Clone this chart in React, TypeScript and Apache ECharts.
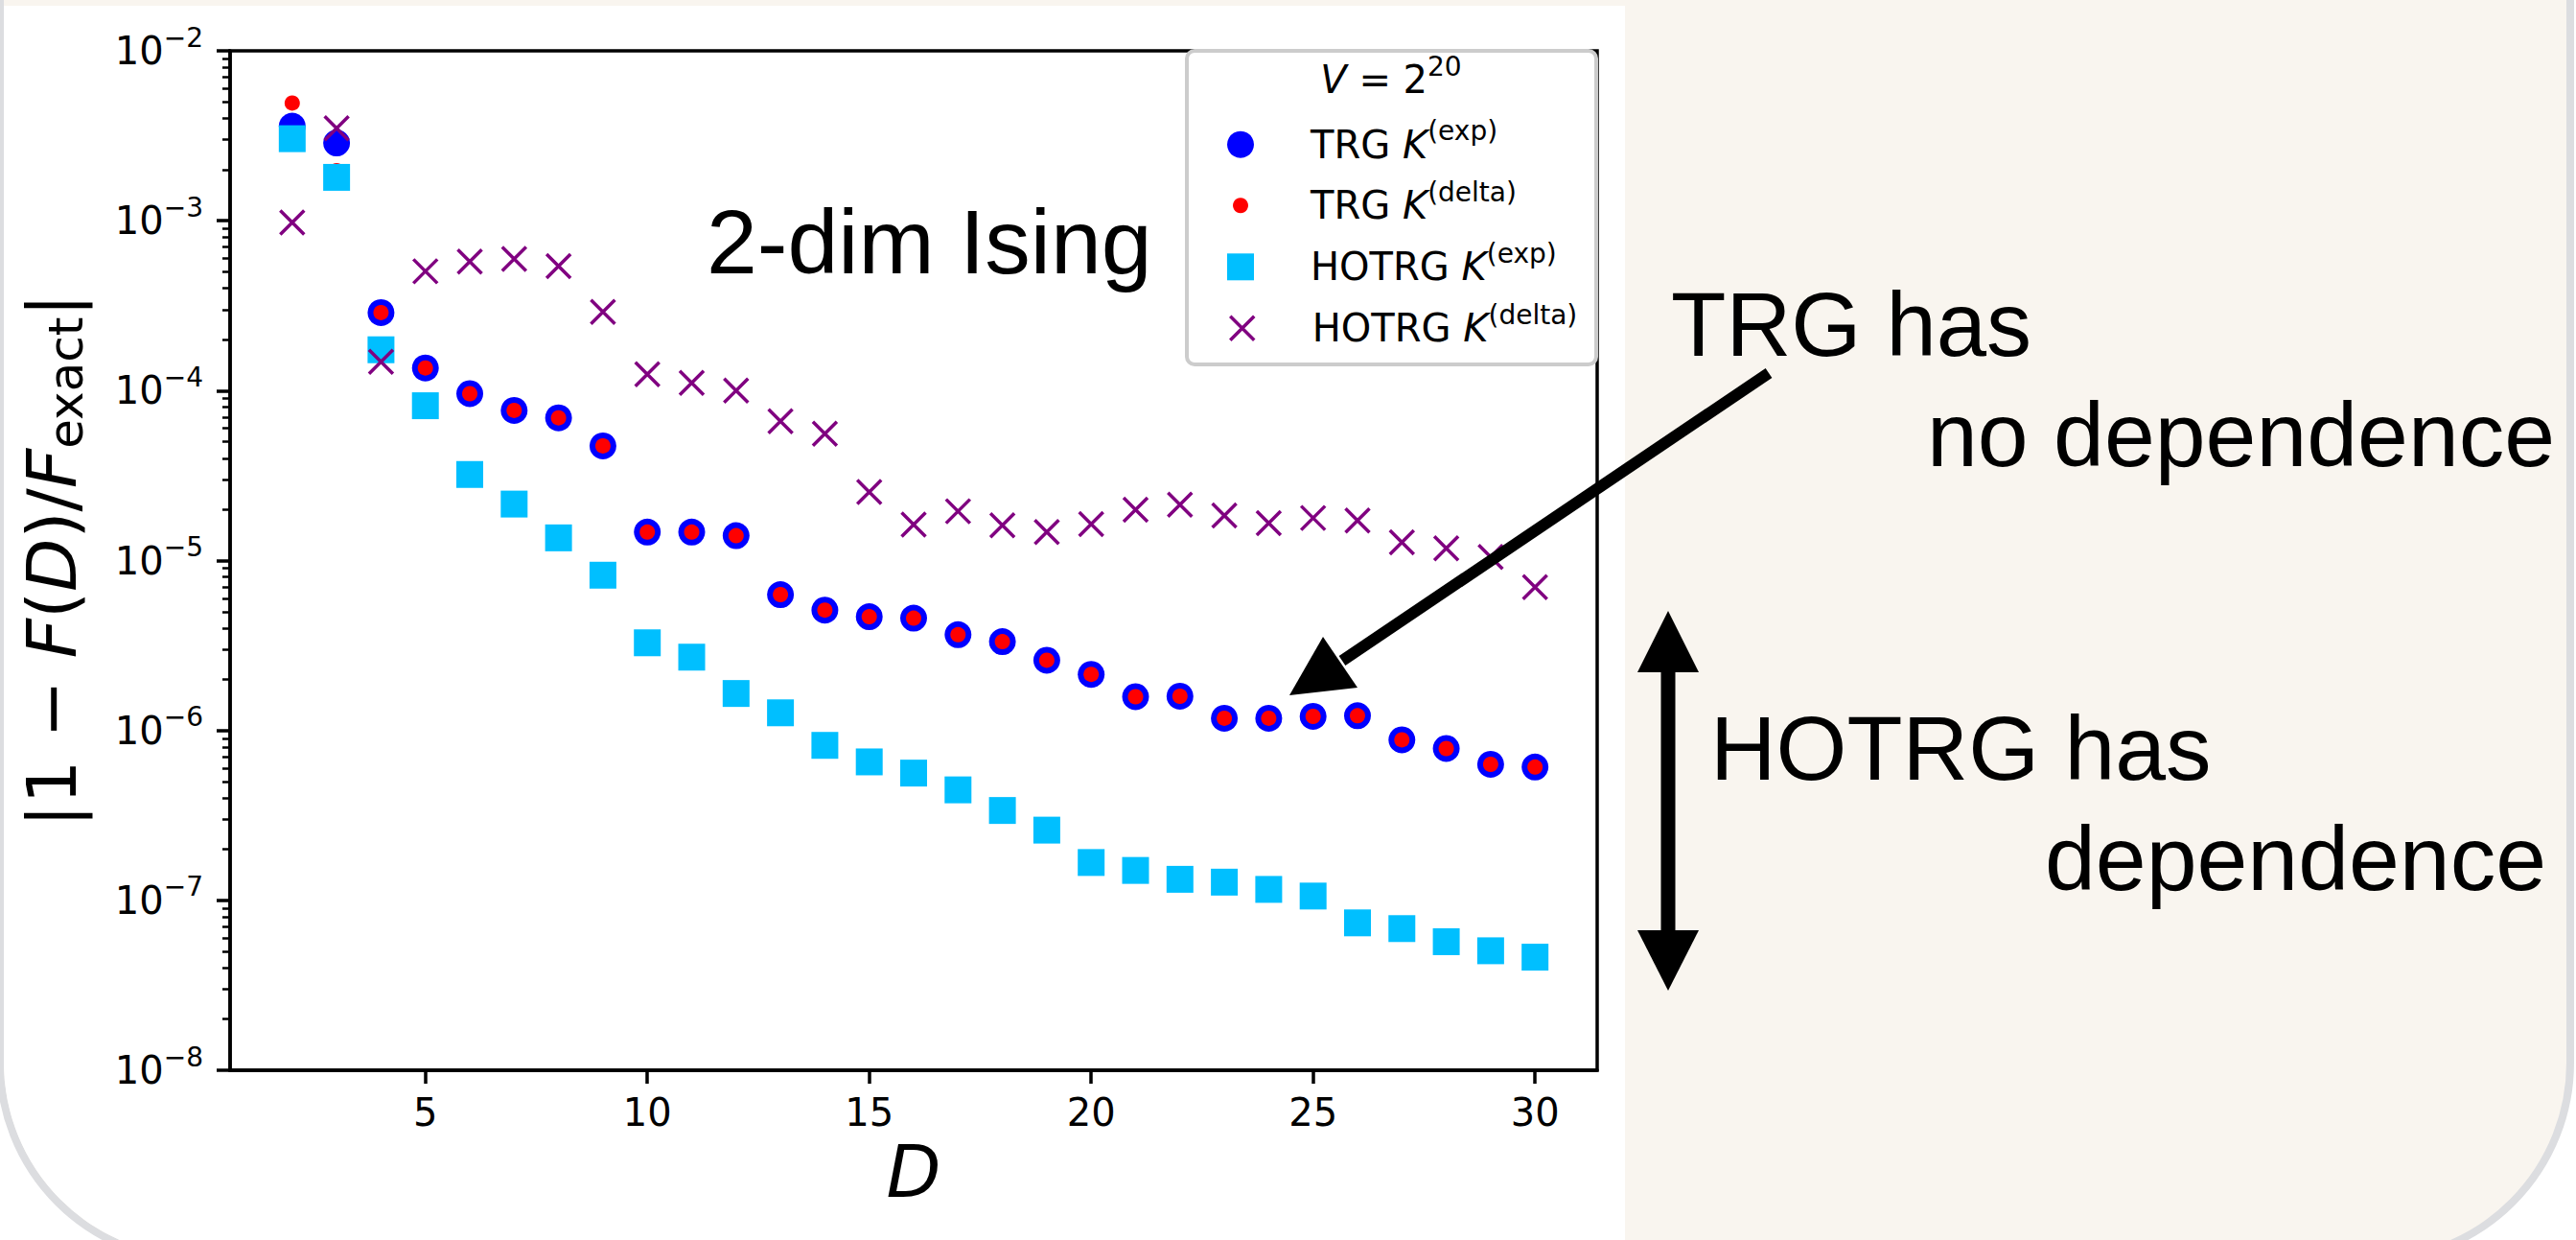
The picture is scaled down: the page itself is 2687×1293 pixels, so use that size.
import React, { useEffect, useRef } from 'react';
import * as echarts from 'echarts';

// ---------------- data ----------------
const D_VALUES = [2, 3, 4, 5, 6, 7, 8, 9, 10, 11, 12, 13, 14, 15, 16, 17, 18, 19, 20, 21, 22, 23, 24, 25, 26, 27, 28, 29, 30];

const TRG_EXP = [3.6e-3, 2.87e-3, 2.88e-4, 1.36e-4, 9.6e-5, 7.65e-5, 6.92e-5, 4.73e-5, 1.47e-5, 1.47e-5, 1.4e-5,
  6.3e-6, 5.11e-6, 4.67e-6, 4.58e-6, 3.66e-6, 3.33e-6, 2.59e-6, 2.14e-6, 1.58e-6, 1.59e-6, 1.18e-6, 1.18e-6,
  1.21e-6, 1.22e-6, 8.81e-7, 7.83e-7, 6.32e-7, 6.09e-7];

const TRG_DELTA = [4.93e-3, 1.97e-3, 2.88e-4, 1.36e-4, 9.6e-5, 7.65e-5, 6.92e-5, 4.73e-5, 1.47e-5, 1.47e-5, 1.4e-5,
  6.3e-6, 5.11e-6, 4.67e-6, 4.58e-6, 3.66e-6, 3.33e-6, 2.59e-6, 2.14e-6, 1.58e-6, 1.59e-6, 1.18e-6, 1.18e-6,
  1.21e-6, 1.22e-6, 8.81e-7, 7.83e-7, 6.32e-7, 6.09e-7];

const HOTRG_EXP = [3.04e-3, 1.8e-3, 1.74e-4, 8.15e-5, 3.21e-5, 2.15e-5, 1.36e-5, 8.2e-6, 3.28e-6, 2.7e-6, 1.65e-6,
  1.27e-6, 8.17e-7, 6.53e-7, 5.61e-7, 4.47e-7, 3.38e-7, 2.59e-7, 1.67e-7, 1.5e-7, 1.33e-7, 1.28e-7, 1.16e-7,
  1.06e-7, 7.37e-8, 6.82e-8, 5.71e-8, 5.05e-8, 4.63e-8];

const HOTRG_DELTA = [9.76e-4, 3.5e-3, 1.48e-4, 5.04e-4, 5.75e-4, 5.96e-4, 5.4e-4, 2.91e-4, 1.25e-4, 1.11e-4, 1.0e-4,
  6.61e-5, 5.58e-5, 2.53e-5, 1.63e-5, 1.95e-5, 1.61e-5, 1.47e-5, 1.64e-5, 1.99e-5, 2.13e-5, 1.84e-5, 1.66e-5,
  1.78e-5, 1.72e-5, 1.28e-5, 1.18e-5, 1.05e-5, 6.98e-6];

const X_TICKS = [5, 10, 15, 20, 25, 30];
const Y_DECADES = [-8, -7, -6, -5, -4, -3, -2];
const Y_MINOR_MULTIPLIERS = [2, 3, 4, 5, 6, 7, 8, 9];

const SERIES_NAMES = ['TRG K(exp)', 'TRG K(delta)', 'HOTRG K(exp)', 'HOTRG K(delta)'];
const SERIES_METHOD = ['TRG', 'TRG', 'HOTRG', 'HOTRG'];
const SERIES_KIND = ['exp', 'delta', 'exp', 'delta'];

// ---------------- styling ----------------
const MATH_FONT = 'DejaVu Sans';
const SLIDE_FONT = '"Liberation Sans", Arial, Helvetica, sans-serif';
const BLACK = '#000000';

const COLORS = ['#0000ff', '#ff0000', '#00bfff', '#800080'];
const SYMBOLS = ['circle', 'circle', 'rect', 'path://M0,0L10,10M10,0L0,10'];
const SYMBOL_SIZES = [28, 16, 28, 25];

const LEGEND_ICON_X = 1294;
const LEGEND_TEXT_X = 1367;
const LEGEND_ROWS = [150.7, 214.3, 278.3, 342.3];
const LEGEND_LINE_H = 56;

function buildMinorTicks() {
  const out: number[] = [];
  for (let k = 0; k < Y_DECADES.length - 1; k++) {
    for (const m of Y_MINOR_MULTIPLIERS) {
      out.push(Number((m * Math.pow(10, Y_DECADES[k])).toPrecision(6)));
    }
  }
  return out;
}

const mathRich = (size: number, lh: number) => ({
  n: { fontFamily: MATH_FONT, fontSize: size, lineHeight: lh, color: BLACK },
  k: { fontFamily: MATH_FONT, fontSize: size, lineHeight: lh, color: BLACK, fontStyle: 'italic' },
  s: { fontFamily: MATH_FONT, fontSize: Math.round(size * 0.7), lineHeight: lh / 2, padding: [0, 0, lh / 2, 0], color: BLACK },
});

function buildOption() {
  const series = SERIES_NAMES.map((name, i) => {
    const values = [TRG_EXP, TRG_DELTA, HOTRG_EXP, HOTRG_DELTA][i];
    const isCross = i === 3;
    return {
      type: 'scatter',
      name,
      xAxisIndex: 0,
      yAxisIndex: 0,
      data: D_VALUES.map((d, j) => [d, values[j]]),
      symbol: SYMBOLS[i],
      symbolSize: SYMBOL_SIZES[i],
      itemStyle: isCross
        ? { color: 'rgba(0,0,0,0)', borderColor: COLORS[i], borderWidth: 3.5, opacity: 1 }
        : { color: COLORS[i], borderWidth: 0, opacity: 1 },
      emphasis: { disabled: true },
      z: 2 + i * 0.01,
      silent: true,
    };
  });

  const legends = SERIES_NAMES.map((name, i) => {
    const w = SYMBOL_SIZES[i];
    const gapW = LEGEND_TEXT_X - (LEGEND_ICON_X + w / 2 + 5);
    const rich: any = {
      g: { width: gapW, fontSize: 40, lineHeight: LEGEND_LINE_H },
      ...mathRich(40, LEGEND_LINE_H),
    };
    return {
      show: true,
      data: [name],
      orient: 'vertical',
      left: LEGEND_ICON_X - w / 2,
      top: LEGEND_ROWS[i] - LEGEND_LINE_H / 2,
      padding: 0,
      itemGap: 0,
      itemWidth: w,
      itemHeight: w,
      selectedMode: false,
      z: 6,
      itemStyle: i === 3
        ? { borderWidth: 3.5, borderColor: COLORS[i], color: 'rgba(0,0,0,0)', opacity: 1 }
        : { borderWidth: 0, opacity: 1 },
      formatter: () => `{g| }{n|${SERIES_METHOD[i]} }{k|K}{s|(${SERIES_KIND[i]})}`,
      textStyle: { color: BLACK, fontFamily: MATH_FONT, fontSize: 40, rich },
    };
  });

  const yLabelRich: any = {
    n: { fontFamily: MATH_FONT, fontSize: 72, lineHeight: 90, color: BLACK },
    i: { fontFamily: MATH_FONT, fontSize: 72, lineHeight: 90, color: BLACK, fontStyle: 'italic' },
    sub: { fontFamily: MATH_FONT, fontSize: 50, lineHeight: 60, padding: [30, 0, 0, 0], color: BLACK },
  };

  const tickRich: any = {
    b: { fontFamily: MATH_FONT, fontSize: 40, lineHeight: 56, color: BLACK },
    s: { fontFamily: MATH_FONT, fontSize: 28, lineHeight: 28, padding: [0, 0, 28, 0], color: BLACK },
  };

  const graphics: any[] = [
    // legend frame
    {
      type: 'rect', silent: true, z: 5,
      shape: { x: 1238, y: 53, width: 427, height: 327, r: 8 },
      style: { fill: 'rgba(255,255,255,0.8)', stroke: '#cccccc', lineWidth: 4 },
    },
    // legend title V = 2^20
    {
      type: 'text', silent: true, z: 7, x: 1451, y: 83,
      style: {
        text: '{k|V}{n| = 2}{s|20}', align: 'center', verticalAlign: 'middle',
        rich: mathRich(40, LEGEND_LINE_H), fill: BLACK,
      },
    },
    // slide annotations
    {
      type: 'text', silent: true, z: 7, x: 737, y: 252,
      style: { text: '2-dim Ising', fontSize: 95, fontFamily: SLIDE_FONT, fill: BLACK, align: 'left', verticalAlign: 'middle' },
    },
    {
      type: 'text', silent: true, z: 7, x: 1743, y: 338,
      style: { text: 'TRG has', fontSize: 94, fontFamily: SLIDE_FONT, fill: BLACK, align: 'left', verticalAlign: 'middle' },
    },
    {
      type: 'text', silent: true, z: 7, x: 2010, y: 453,
      style: { text: 'no dependence', fontSize: 95, fontFamily: SLIDE_FONT, fill: BLACK, align: 'left', verticalAlign: 'middle' },
    },
    {
      type: 'text', silent: true, z: 7, x: 1784, y: 780,
      style: { text: 'HOTRG has', fontSize: 95, fontFamily: SLIDE_FONT, fill: BLACK, align: 'left', verticalAlign: 'middle' },
    },
    {
      type: 'text', silent: true, z: 7, x: 2133, y: 895,
      style: { text: 'dependence', fontSize: 95, fontFamily: SLIDE_FONT, fill: BLACK, align: 'left', verticalAlign: 'middle' },
    },
    // arrow pointing at TRG points
    {
      type: 'line', silent: true, z: 10,
      shape: { x1: 1845, y1: 389, x2: 1400, y2: 689 },
      style: { stroke: BLACK, lineWidth: 12, lineCap: 'butt' },
    },
    {
      type: 'polygon', silent: true, z: 10,
      shape: { points: [[1345, 725], [1380, 664], [1416, 717]] },
      style: { fill: BLACK },
    },
    // double arrow
    {
      type: 'line', silent: true, z: 10,
      shape: { x1: 1740, y1: 698, x2: 1740, y2: 972 },
      style: { stroke: BLACK, lineWidth: 15, lineCap: 'butt' },
    },
    {
      type: 'polygon', silent: true, z: 10,
      shape: { points: [[1740, 637], [1708, 701], [1772, 701]] },
      style: { fill: BLACK },
    },
    {
      type: 'polygon', silent: true, z: 10,
      shape: { points: [[1740, 1033], [1708, 970], [1772, 970]] },
      style: { fill: BLACK },
    },
  ];

  return {
    animation: false,
    backgroundColor: 'transparent',
    grid: {
      left: 240, top: 53, right: 1021, bottom: 177,
      show: true, borderColor: BLACK, borderWidth: 3.5, backgroundColor: 'transparent',
      containLabel: false, outerBoundsMode: 'none',
    },
    xAxis: {
      type: 'value',
      min: 0.6, max: 31.4,
      splitLine: { show: false },
      axisLine: { show: true, onZero: false, lineStyle: { color: BLACK, width: 3.5 } },
      axisTick: { show: true, length: 14, inside: false, lineStyle: { color: BLACK, width: 3.5 }, customValues: X_TICKS },
      axisLabel: {
        show: true, customValues: X_TICKS, margin: 24, color: BLACK, fontFamily: MATH_FONT, fontSize: 40,
        formatter: (v: number) => String(v),
      },
      name: 'D',
      nameLocation: 'middle',
      nameGap: 68,
      nameTextStyle: { fontFamily: MATH_FONT, fontSize: 74, fontStyle: 'italic', color: BLACK },
    },
    yAxis: [
      {
        type: 'log', logBase: 10, min: 1e-8, max: 1e-2, splitNumber: 6,
        position: 'left',
        splitLine: { show: false },
        axisLine: { show: true, onZero: false, lineStyle: { color: BLACK, width: 3.5 } },
        axisTick: { show: true, length: 14, inside: false, lineStyle: { color: BLACK, width: 3.5 } },
        axisLabel: {
          show: true, margin: 28, color: BLACK,
          formatter: (v: number) => {
            const e = Math.round(Math.log10(v));
            return `{b|10}{s|${e < 0 ? '\u2212' : ''}${Math.abs(e)}}`;
          },
          rich: tickRich,
        },
        name: '{n||1 \u2212 }{i|F}{n|(}{i|D}{n|)/}{i|F}{sub|exact}{n||}',
        nameLocation: 'middle',
        nameRotate: 90,
        nameGap: 141,
        nameTextStyle: { fontFamily: MATH_FONT, fontSize: 72, color: BLACK, rich: yLabelRich },
      },
      {
        type: 'log', logBase: 10, min: 1e-8, max: 1e-2,
        position: 'left',
        splitLine: { show: false },
        axisLine: { show: false },
        axisLabel: { show: false },
        axisTick: { show: true, length: 8, inside: false, lineStyle: { color: BLACK, width: 2.5 }, customValues: buildMinorTicks() },
      },
    ],
    legend: legends,
    series,
    graphic: { elements: graphics },
  };
}

export default function App() {
  const ref = useRef<HTMLDivElement>(null);
  useEffect(() => {
    document.body.style.margin = '0';
    const chart = echarts.init(ref.current as HTMLDivElement, null, { renderer: 'svg' });
    chart.setOption(buildOption() as any);
    return () => {
      chart.dispose();
    };
  }, []);

  return (
    <div style={{ position: 'absolute', left: 0, top: 0, width: 2687, height: 1293, background: '#ffffff', overflow: 'hidden' }}>
      <div
        style={{
          position: 'absolute', left: -4, top: -400, width: 2689, height: 1718,
          boxSizing: 'border-box', border: '8px solid #dcdde0', borderRadius: 210,
          background: '#f9f5ef', overflow: 'hidden',
        }}
      >
        <div style={{ position: 'absolute', left: 0, top: 398, width: 1691, height: 2000, background: '#ffffff' }} />
      </div>
      <div ref={ref} style={{ position: 'absolute', left: 0, top: 0, width: 2687, height: 1293 }} />
    </div>
  );
}
